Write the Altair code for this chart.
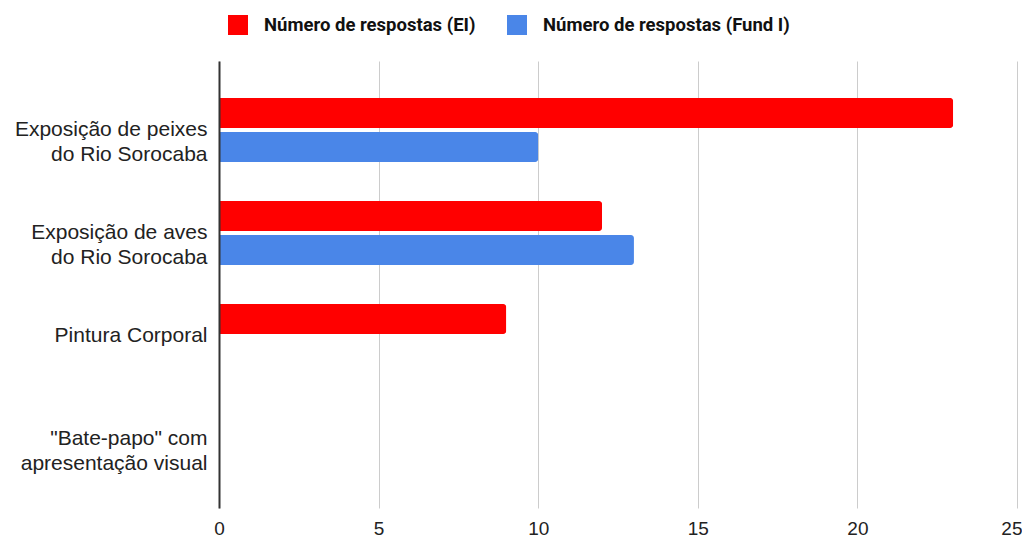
import altair as alt
import pandas as pd

categories = [
    "Exposição de peixes|do Rio Sorocaba",
    "Exposição de aves|do Rio Sorocaba",
    "Pintura Corporal",
    "\"Bate-papo\" com|apresentação visual",
]
series_names = ["Número de respostas (EI)", "Número de respostas (Fund I)"]
values_ei = [23, 12, 9, 0]
values_fund = [10, 13, 0, 0]
colors = ["#ff0000", "#4a86e8"]
x_ticks = [0, 5, 10, 15, 20, 25]

rows = []
for c, v in zip(categories, values_ei):
    rows.append({"cat": c, "serie": series_names[0], "val": v})
for c, v in zip(categories, values_fund):
    rows.append({"cat": c, "serie": series_names[1], "val": v})
df = pd.DataFrame(rows)

chart = alt.Chart(df).mark_bar(cornerRadiusEnd=3).encode(
    x=alt.X(
        "val:Q",
        scale=alt.Scale(domain=[0, 25], nice=False, zero=True),
        axis=alt.Axis(
            values=x_ticks,
            title=None,
            domain=False,
            ticks=False,
            grid=True,
            gridColor="#cccccc",
            gridWidth=1,
            labelFont="Liberation Sans",
            labelFontSize=19,
            labelColor="#222222",
            labelBaseline="alphabetic",
            labelPadding=26,
            labelAlign={"condition": {"test": "datum.value === 25", "value": "right"}, "value": "center"},
            labelOffset={"condition": {"test": "datum.value === 25", "value": 5}, "value": 0},
        ),
    ),
    y=alt.Y(
        "cat:N",
        sort=categories,
        scale=alt.Scale(paddingInner=0.379, paddingOuter=0.359),
        axis=alt.Axis(
            title=None,
            ticks=False,
            domain=True,
            domainColor="#333333",
            domainWidth=2,
            labelFont="Liberation Sans",
            labelFontSize=21,
            labelColor="#222222",
            labelPadding=12,
            labelLineHeight=25,
            labelLimit=0,
            labelExpr="split(datum.label, '|')",
            zindex=1,
        ),
    ),
    yOffset=alt.YOffset(
        "serie:N",
        sort=series_names,
        scale=alt.Scale(paddingInner=0.12, paddingOuter=0),
    ),
    color=alt.Color(
        "serie:N",
        sort=series_names,
        scale=alt.Scale(domain=series_names, range=colors),
        legend=alt.Legend(
            title=None,
            orient="none",
            direction="horizontal",
            legendX=9,
            legendY=-46,
            symbolType="square",
            symbolSize=400,
            symbolStrokeWidth=0,
            labelFont="Roboto",
            labelFontWeight="bold",
            labelFontSize=18.5,
            labelColor="#111111",
            labelOffset=16,
            columnPadding=31,
            padding=0,
            labelLimit=0,
        ),
    ),
).properties(
    width=798,
    height=447,
    padding={"left": 211, "top": 53, "right": 5, "bottom": 31},
    autosize=alt.AutoSizeParams(type="none"),
).configure_view(stroke=None)

chart.save("out.html", embed_options={"renderer": "svg", "actions": False})
